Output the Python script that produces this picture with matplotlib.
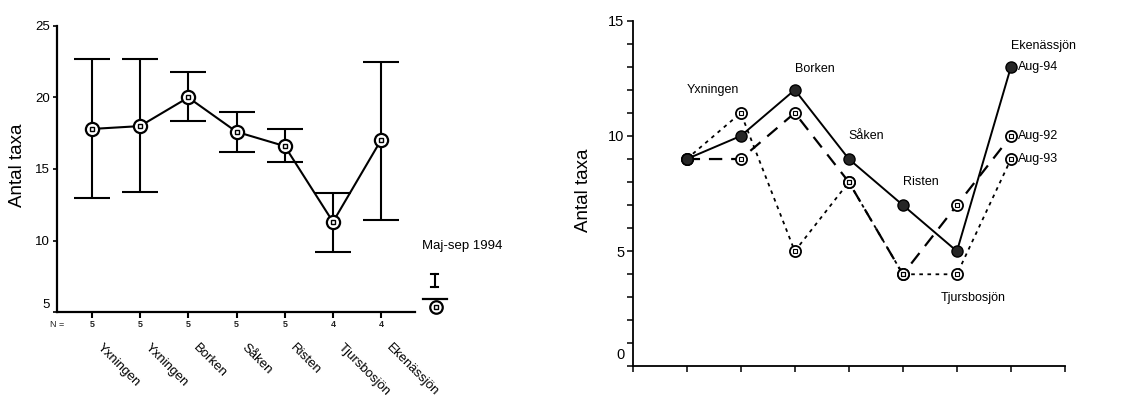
import matplotlib

matplotlib.use("Agg")
import matplotlib.pyplot as plt
import matplotlib.transforms as mtransforms
from matplotlib.lines import Line2D
from matplotlib.ticker import FixedLocator
import numpy as np

plt.rcParams["font.family"] = ["Liberation Sans", "DejaVu Sans"]

# --- left panel: mean and range per lake, May-Sep 1994
lakes = ["Yxningen", "Yxningen", "Borken", "Såken", "Risten", "Tjursbosjön", "Ekenässjön"]
n_obs = [5, 5, 5, 5, 5, 4, 4]
mean_taxa = [17.8, 18.0, 20.0, 17.6, 16.6, 11.3, 17.05]
upper_taxa = [22.7, 22.7, 21.8, 19.0, 17.8, 13.3, 22.5]
lower_taxa = [13.0, 13.4, 18.35, 16.2, 15.5, 9.2, 11.45]

# --- right panel: number of taxa in August samples
aug94 = [9, 10, 12, 9, 7, 5, 13]
aug92 = [9, 9, 11, 8, 4, 7, 10]
aug93 = [9, 11, 5, 8, 4, 4, 9]

fig = plt.figure(figsize=(11.48, 4.03), dpi=100)

# ---------------- left
ax1 = fig.add_axes([0.0497, 0.2258, 0.3118, 0.7097])
x1 = np.arange(1, len(lakes) + 1)
mean_a = np.array(mean_taxa)
yerr = [mean_a - np.array(lower_taxa), np.array(upper_taxa) - mean_a]
ax1.errorbar(x1, mean_a, yerr=yerr, fmt="none", ecolor="black",
             elinewidth=1.5, capsize=13, capthick=1.5, zorder=2)
ax1.plot(x1, mean_a, "-", color="black", lw=1.5, zorder=3)
ax1.plot(x1, mean_a, "o", ms=9.5, mfc="white", mec="black", mew=1.6, zorder=4)
ax1.plot(x1, mean_a, "s", ms=3.5, mfc="none", mec="black", mew=1.0, zorder=5)

ax1.set_xlim(0.28, 7.7)
ax1.set_ylim(5, 25)
ax1.yaxis.set_major_locator(FixedLocator([5, 10, 15, 20, 25]))
ax1.set_xticks(x1)
ax1.set_xticklabels([])
for s in ("top", "right"):
    ax1.spines[s].set_visible(False)
for s in ("left", "bottom"):
    ax1.spines[s].set_linewidth(1.6)
ax1.tick_params(axis="y", direction="out", length=3, width=1.2, labelsize=9.5, pad=2)
ax1.tick_params(axis="x", direction="out", length=4, width=1.5)
# bottom tick label sits a bit higher in the original
lab5 = ax1.get_yticklabels()[0]
lab5.set_transform(lab5.get_transform() +
                   mtransforms.ScaledTranslation(0, 6 / 72, fig.dpi_scale_trans))
ax1.set_ylabel("Antal taxa", fontsize=13.5)
ax1.yaxis.set_label_coords(-0.087, 0.514)

blend1 = mtransforms.blended_transform_factory(ax1.transData, ax1.transAxes)
ax1.text(0.0, -0.045, "N =", transform=ax1.transAxes, fontsize=6.5,
         ha="center", va="center", color="#222")
for xi, n in zip(x1, n_obs):
    ax1.text(xi, -0.045, str(n), transform=blend1, fontsize=6.5,
             ha="center", va="center", color="#222", fontweight="bold")
for xi, name in zip(x1, lakes):
    ax1.annotate(name, xy=(xi, 0), xycoords=blend1, xytext=(8, -21),
                 textcoords="offset points", rotation=-45, rotation_mode="anchor",
                 ha="left", va="top", fontsize=9.5)

# legend block drawn beside the axes, as in the SPSS output
ax1.text(1.02, 0.231, "Maj-sep 1994", transform=ax1.transAxes, fontsize=9.5,
         ha="left", va="center")
ax1.add_line(Line2D([1.055, 1.055], [0.087, 0.133], transform=ax1.transAxes,
                    color="black", lw=1.5, clip_on=False))
ax1.add_line(Line2D([1.045, 1.065], [0.133, 0.133], transform=ax1.transAxes,
                    color="black", lw=1.5, clip_on=False))
ax1.add_line(Line2D([1.045, 1.065], [0.087, 0.087], transform=ax1.transAxes,
                    color="black", lw=1.5, clip_on=False))
ax1.add_line(Line2D([1.022, 1.089], [0.045, 0.045], transform=ax1.transAxes,
                    color="black", lw=1.6, clip_on=False))
ax1.add_line(Line2D([1.058], [0.017], transform=ax1.transAxes, marker="o", ms=9,
                    mfc="white", mec="black", mew=1.6, clip_on=False))
ax1.add_line(Line2D([1.058], [0.017], transform=ax1.transAxes, marker="s", ms=3.5,
                    mfc="none", mec="black", mew=1.0, clip_on=False))

# ---------------- right
ax2 = fig.add_axes([0.5511, 0.0906, 0.3766, 0.858])
x2 = np.arange(1, len(aug94) + 1)
ax2.plot(x2, aug93, color="black", lw=1.3, dashes=(2, 2.5), zorder=2)
ax2.plot(x2, aug92, color="black", lw=1.6, dashes=(6, 4), zorder=2)
ax2.plot(x2, aug94, color="black", lw=1.4, zorder=3)
for ys in (aug92, aug93):
    ax2.plot(x2, ys, "o", ms=8, mfc="white", mec="black", mew=1.3, zorder=4)
    ax2.plot(x2, ys, "s", ms=3, mfc="none", mec="black", mew=0.8, zorder=5)
ax2.plot(x2, aug94, "o", ms=8, mfc="#262626", mec="black", mew=1.0, zorder=6)

label_pos = {"Yxningen": (1.0, 12.0), "Borken": (3.0, 12.9), "Såken": (4.0, 10.0),
             "Risten": (5.0, 8.0), "Tjursbosjön": (5.7, 2.95), "Ekenässjön": (7.0, 13.9)}
for name, (lx, ly) in label_pos.items():
    ax2.text(lx, ly, name, fontsize=9, ha="left", va="center")
for lab, ys in (("Aug-94", aug94), ("Aug-92", aug92), ("Aug-93", aug93)):
    ax2.text(x2[-1] + 0.13, ys[-1], lab, fontsize=9, ha="left", va="center")

ax2.set_xlim(0, 8)
ax2.set_ylim(0, 15)
ax2.set_xticks(np.arange(0, 9))
ax2.set_xticklabels([])
yt = list(range(0, 16))
ax2.set_yticks(yt)
ax2.set_yticklabels([str(v) if v % 5 == 0 else "" for v in yt])
for s in ("top", "right"):
    ax2.spines[s].set_visible(False)
for s in ("left", "bottom"):
    ax2.spines[s].set_linewidth(1.3)
ax2.tick_params(axis="y", direction="out", length=4, width=1.1, labelsize=10.5, pad=2)
ax2.tick_params(axis="x", direction="out", length=4, width=1.1)
lab0 = ax2.get_yticklabels()[0]
lab0.set_transform(lab0.get_transform() +
                   mtransforms.ScaledTranslation(0, 9 / 72, fig.dpi_scale_trans))
ax2.set_ylabel("Antal taxa", fontsize=13.5)
ax2.yaxis.set_label_coords(-0.094, 0.51)

fig.savefig("out.png", dpi=100)
plt.close(fig)
